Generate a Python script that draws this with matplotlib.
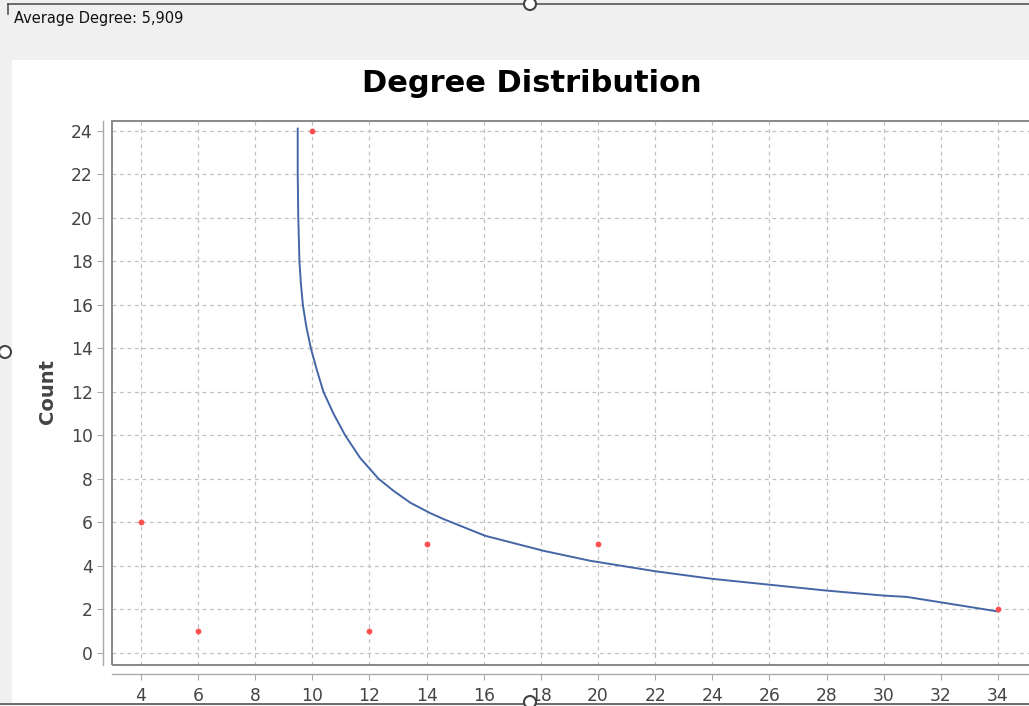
import matplotlib
matplotlib.use("Agg")
import matplotlib.pyplot as plt
from matplotlib.patches import Rectangle, Ellipse
from matplotlib.lines import Line2D

W, H = 1029, 706

# degree distribution (degree -> node count)
degree = [4, 6, 10, 12, 14, 20, 34]
count = [6, 1, 24, 1, 5, 5, 2]

# fitted curve
fit_x = [9.49, 9.49, 9.51, 9.53, 9.55, 9.6, 9.67, 9.79, 9.95, 10.16, 10.39, 10.74, 11.15,
         11.68, 12.32, 12.84, 13.43, 14.13, 14.59, 16.05, 18.09, 19.73, 22.0, 24.0, 26.0,
         28.0, 30.0, 30.8, 32.0, 34.0]
fit_y = [24.1, 22.0, 20.0, 19.0, 18.0, 17.0, 16.0, 15.0, 14.0, 13.0, 12.0, 11.0, 10.0,
         8.95, 8.0, 7.45, 6.9, 6.42, 6.15, 5.38, 4.69, 4.23, 3.75, 3.4, 3.13,
         2.86, 2.63, 2.57, 2.32, 1.9]

avg_label = "Average Degree: 5,909"


def fx(x):
    return x / W


def fy(y):
    return 1 - y / H


fig = plt.figure(figsize=(W / 100, H / 100), dpi=100, facecolor="#f0f0f0")

# white chart panel
fig.patches.append(Rectangle((fx(12), fy(703)), 1, fy(60) - fy(703), transform=fig.transFigure,
                             facecolor="white", edgecolor="none", zorder=-5))
# window border lines
fig.lines.append(Line2D([fx(8), 1], [fy(4), fy(4)], transform=fig.transFigure, color="#555555", lw=1.2))
fig.lines.append(Line2D([0, 1], [fy(704), fy(704)], transform=fig.transFigure, color="#555555", lw=1.2))
fig.lines.append(Line2D([fx(8), fx(8)], [fy(4), fy(14)], transform=fig.transFigure, color="#555555", lw=1.2))
for cx, cy in [(530, 4), (5, 352), (530, 702)]:
    fig.patches.append(Ellipse((fx(cx), fy(cy)), 12 / W, 12 / H, transform=fig.transFigure,
                               facecolor="white", edgecolor="#444444", lw=1.5, zorder=10))

fig.text(fx(14), fy(19), avg_label, fontsize=10.5, family="DejaVu Sans", color="#111111",
         ha="left", va="center")
fig.text(fx(532), fy(84), "Degree Distribution", fontsize=22, fontweight="bold",
         family="DejaVu Sans", color="black", ha="center", va="center")

xmin, xmax = 3.0, 35.2
ymin, ymax = -0.55, 24.45
ax = fig.add_axes([fx(112.3), fy(664.75), (xmax - xmin) * 28.57 / W, 543.75 / H])
ax.set_facecolor("white")
ax.set_xlim(xmin, xmax)
ax.set_ylim(ymin, ymax)
ax.set_xticks(range(4, 35, 2))
ax.set_yticks(range(0, 25, 2))
ax.grid(True, color="#c0c0c0", linestyle=(0, (3, 3)), linewidth=0.9)
ax.set_axisbelow(True)

for s in ["top", "right"]:
    ax.spines[s].set_visible(False)
for s in ["left", "bottom"]:
    ax.spines[s].set_position(("outward", 7))
    ax.spines[s].set_color("#aaaaaa")
    ax.spines[s].set_linewidth(1.0)
ax.add_patch(Rectangle((0, 0), 1, 1, transform=ax.transAxes, fill=False,
                       edgecolor="#888888", lw=1.4, clip_on=False, zorder=4))
ax.tick_params(axis="both", direction="out", length=4, width=0.8, color="#aaaaaa",
               labelsize=12.3, labelcolor="#444444")
ax.tick_params(axis="x", pad=5)
ax.tick_params(axis="y", pad=3)

ax.plot(fit_x, fit_y, color="#4466a6", lw=1.4, zorder=3, solid_joinstyle="round")
ax.plot(degree, count, "o", color="#ff5050", markersize=4.2, markeredgewidth=0, zorder=4)

fig.text(fx(47), fy(392), "Count", rotation=90, fontsize=14, fontweight="bold",
         color="#444444", ha="center", va="center")

fig.savefig("out.png", dpi=100, facecolor=fig.get_facecolor())
